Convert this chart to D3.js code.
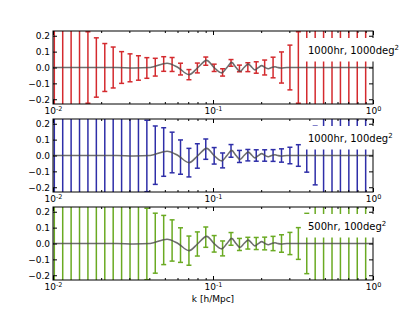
<!DOCTYPE html>
<html>
<head>
<meta charset="utf-8">
<script src="https://cdn.jsdelivr.net/npm/d3@7"></script>
<style>
  body { margin: 0; background: #fff; }
  text { font-family: "DejaVu Sans", sans-serif; }
</style>
</head>
<body>
<svg id="chart" width="415" height="312"></svg>
<script>
/* global d3 */

// k bin centres [h/Mpc]
let kBins = [0.01019, 0.0115, 0.01298, 0.01465, 0.01653, 0.01866, 0.02107, 0.02378, 0.02684, 0.0303,
  0.0342, 0.0386, 0.04357, 0.04918, 0.05551, 0.06266, 0.07073, 0.07984, 0.09012, 0.1017,
  0.1148, 0.1296, 0.1463, 0.1651, 0.1863, 0.2103, 0.2374, 0.268, 0.3025, 0.3415,
  0.3855, 0.4351, 0.4911, 0.5544, 0.6258, 0.7063, 0.7973, 0.8999];

// binned wiggle value at each bin
let binCenter = [0, 0, 0, 0, 0, 0, 0, 0, 0, -0.002,
  -0.003, -0.003, 0.002, 0.022, 0.019, -0.01, -0.045, -0.003, 0.04, -0.002,
  -0.031, 0.029, -0.006, 0.002, 0, 0, 0, 0, 0, 0,
  0, 0, 0, 0, 0, 0, 0, 0];

let errA = [0.9, 0.6, 0.45, 0.32, 0.225, 0.187, 0.151, 0.129, 0.1, 0.088,
  0.077, 0.065, 0.056, 0.046, 0.044, 0.037, 0.032, 0.031, 0.026, 0.023,
  0.023, 0.021, 0.021, 0.028, 0.036, 0.047, 0.065, 0.098, 0.141, 0.225,
  0.32, 0.45, 0.6, 0.8, 1.0, 1.3, 1.6, 2.0];

let errB = [3, 2.5, 2, 1.6, 1.3, 1.0, 0.8, 0.6, 0.45, 0.35,
  0.28, 0.225, 0.184, 0.153, 0.128, 0.108, 0.09, 0.077, 0.064, 0.052,
  0.047, 0.04, 0.038, 0.036, 0.036, 0.036, 0.037, 0.042, 0.052, 0.068,
  0.105, 0.185, 0.3, 0.45, 0.6, 0.8, 1.0, 1.3];

let errC = [3, 2.5, 2, 1.6, 1.3, 1.0, 0.8, 0.6, 0.45, 0.35,
  0.28, 0.225, 0.189, 0.155, 0.13, 0.109, 0.092, 0.076, 0.064, 0.052,
  0.047, 0.04, 0.038, 0.037, 0.038, 0.04, 0.045, 0.055, 0.07, 0.1,
  0.19, 0.3, 0.45, 0.6, 0.8, 1.0, 1.3, 1.6];

// model wiggle curve
let curveK = [0.01, 0.025, 0.032, 0.0405, 0.05159, 0.06043, 0.07079, 0.08056, 0.09132, 0.1015,
  0.1133, 0.1223, 0.1309, 0.1393, 0.1475, 0.1563, 0.1662, 0.1754, 0.183, 0.1923,
  0.2015, 0.2113, 0.2218, 0.2328, 0.244, 0.2547, 0.2661, 0.29, 1.0];
let curveP = [0, 0, -0.003, 0, 0.027, 0, -0.045, 0, 0.045, 0,
  -0.034, 0, 0.032, 0, -0.024, 0, 0.021, 0, -0.015, 0,
  0.012, 0, -0.008, 0, 0.005, 0, -0.003, 0, 0];

let panelLabels = ['1000hr, 1000deg', '1000hr, 100deg', '500hr, 100deg'];
let panelColors = ['#d42a2e', '#2e2ea8', '#6aaa22'];
let panelErrors = [errA, errB, errC];

let yTicks = [-0.2, -0.1, 0, 0.1, 0.2];
let yTickLabels = ['\u22120.2', '\u22120.1', '0.0', '0.1', '0.2'];
let xMajor = [0.01, 0.1, 1];
let xMajorBase = ['10', '10', '10'];
let xMajorExp = ['-2', '-1', '0'];
let xMinor = [0.02, 0.03, 0.04, 0.05, 0.06, 0.07, 0.08, 0.09, 0.2, 0.3, 0.4, 0.5, 0.6, 0.7, 0.8, 0.9];

let left = 53, width = 320, height = 73;
let panelTops = [31, 119, 207];

let svg = d3.select('#chart');

let x = d3.scaleLog().domain([0.01, 1]).range([0, width]);
let y = d3.scaleLinear().domain([-0.23, 0.23]).range([height, 0]);

svg.append('defs').append('clipPath').attr('id', 'plotclip')
  .append('rect').attr('x', 0).attr('y', 0).attr('width', width).attr('height', height);

let line = d3.line()
  .x((d) => x(d[0]))
  .y((d) => y(d[1]))
  .curve(d3.curveMonotoneX);

let curveData = curveK.map((k, i) => [k, curveP[i]]);

function labelXAxis(g) {
  g.select('.domain').remove();
  g.selectAll('.tick line').attr('stroke', '#000');
  g.selectAll('.tick text').each(function (d, i) {
    let t = d3.select(this).text('').attr('font-size', 9).attr('fill', '#000');
    t.append('tspan').text(xMajorBase[i]);
    t.append('tspan').text(xMajorExp[i]).attr('font-size', 6.5).attr('dy', '-0.55em');
  });
}

for (let p = 0; p < 3; p += 1) {
  let g = svg.append('g').attr('transform', `translate(${left},${panelTops[p]})`);
  let errs = panelErrors[p];
  let barData = kBins.map((k, i) => ({k: k, v: binCenter[i], e: errs[i]}));

  let plot = g.append('g').attr('clip-path', 'url(#plotclip)');

  let bars = plot.selectAll('g.bar').data(barData).enter().append('g')
    .attr('class', 'bar')
    .attr('stroke', panelColors[p])
    .attr('stroke-width', 1.5);
  bars.append('line')
    .attr('x1', (d) => x(d.k)).attr('x2', (d) => x(d.k))
    .attr('y1', (d) => y(d.v + d.e)).attr('y2', (d) => y(d.v - d.e));
  bars.append('line')
    .attr('x1', (d) => x(d.k) - 2.5).attr('x2', (d) => x(d.k) + 2.5)
    .attr('y1', (d) => y(d.v + d.e)).attr('y2', (d) => y(d.v + d.e));
  bars.append('line')
    .attr('x1', (d) => x(d.k) - 2.5).attr('x2', (d) => x(d.k) + 2.5)
    .attr('y1', (d) => y(d.v - d.e)).attr('y2', (d) => y(d.v - d.e));

  plot.append('path')
    .datum(curveData)
    .attr('d', line)
    .attr('fill', 'none')
    .attr('stroke', '#4a4a4a')
    .attr('stroke-opacity', 0.8)
    .attr('stroke-width', 1.6);

  // axes, ticks pointing inward
  g.append('g')
    .call(d3.axisLeft(y).tickValues(yTicks).tickSizeInner(-4).tickSizeOuter(0).tickPadding(3)
      .tickFormat((d, i) => yTickLabels[i]))
    .call((a) => a.select('.domain').remove())
    .call((a) => a.selectAll('text').attr('font-size', 9).attr('fill', '#000'));
  g.append('g').attr('transform', `translate(${width},0)`)
    .call(d3.axisRight(y).tickValues(yTicks).tickSizeInner(-4).tickSizeOuter(0).tickFormat(''))
    .call((a) => a.select('.domain').remove());

  g.append('g').attr('transform', `translate(0,${height})`)
    .call(d3.axisBottom(x).tickValues(xMajor).tickSizeInner(-4).tickSizeOuter(0).tickPadding(4))
    .call(labelXAxis);
  g.append('g').attr('transform', `translate(0,${height})`)
    .call(d3.axisBottom(x).tickValues(xMinor).tickSizeInner(-2).tickSizeOuter(0).tickFormat(''))
    .call((a) => a.select('.domain').remove());
  g.append('g')
    .call(d3.axisTop(x).tickValues(xMajor).tickSizeInner(-4).tickSizeOuter(0).tickFormat(''))
    .call((a) => a.select('.domain').remove());
  g.append('g')
    .call(d3.axisTop(x).tickValues(xMinor).tickSizeInner(-2).tickSizeOuter(0).tickFormat(''))
    .call((a) => a.select('.domain').remove());

  g.append('rect')
    .attr('x', 0).attr('y', 0).attr('width', width).attr('height', height)
    .attr('fill', 'none').attr('stroke', '#000').attr('stroke-width', 1);

  // label with white box
  let box = g.append('rect').attr('fill', '#fff');
  let label = g.append('text')
    .attr('x', 255).attr('y', 22.5)
    .attr('font-size', 10).attr('fill', '#000');
  label.append('tspan').text(panelLabels[p]);
  label.append('tspan').text('2').attr('font-size', 7).attr('dy', '-0.5em');
  let bb = label.node().getBBox();
  box.attr('x', bb.x - 6).attr('y', bb.y - 6).attr('width', bb.width + 12).attr('height', bb.height + 12);
}

svg.append('text')
  .attr('x', left + width / 2)
  .attr('y', 302)
  .attr('text-anchor', 'middle')
  .attr('font-size', 9)
  .text('k [h/Mpc]');
</script>
</body>
</html>
